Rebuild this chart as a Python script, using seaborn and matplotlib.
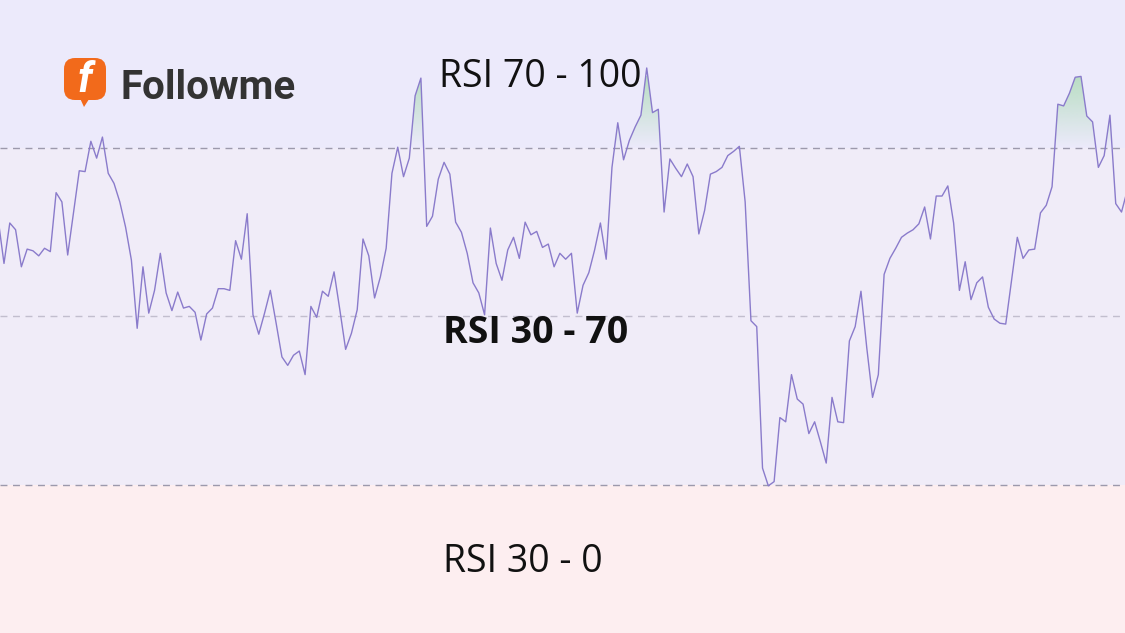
import numpy as np
import matplotlib
matplotlib.use("Agg")
import matplotlib.pyplot as plt
import seaborn as sns
from matplotlib.path import Path
from matplotlib.patches import FancyBboxPatch, Polygon
from matplotlib.colors import to_rgb

sns.set_theme(style="white")
plt.rcParams["font.family"] = ["Open Sans", "DejaVu Sans"]

# ---------------------------------------------------------------------------
# Data
# ---------------------------------------------------------------------------

rsi = [
    61.5, 56.3, 61.1, 60.3, 55.9, 58.0, 57.8, 57.2, 58.1, 57.7,
    64.7, 63.6, 57.3, 62.3, 67.3, 67.2, 70.8, 68.8, 71.3, 67.0,
    65.8, 63.6, 60.6, 56.7, 48.6, 55.9, 50.4, 53.1, 57.5, 52.8,
    50.7, 52.9, 51.0, 51.2, 50.5, 47.2, 50.3, 51.0, 53.3, 53.3,
    53.1, 59.0, 56.8, 62.2, 50.2, 47.9, 50.4, 53.1, 49.2, 45.2,
    44.2, 45.4, 45.9, 43.1, 51.2, 49.9, 53.0, 52.4, 55.3, 50.8,
    46.1, 48.0, 50.8, 59.2, 57.2, 52.2, 54.7, 58.1, 67.0, 70.1,
    66.6, 68.8, 76.2, 78.3, 60.7, 61.9, 66.3, 68.3, 66.9, 61.2,
    60.0, 57.5, 54.0, 52.8, 50.2, 60.5, 56.3, 54.3, 57.9, 59.4,
    56.9, 61.2, 59.7, 60.1, 58.2, 58.6, 55.9, 57.5, 56.8, 57.5,
    50.4, 53.7, 55.2, 57.9, 61.1, 56.8, 67.7, 73.0, 68.6, 70.9,
    72.5, 73.9, 79.5, 74.2, 74.6, 62.4, 68.7, 67.6, 66.6, 68.1,
    66.6, 59.8, 62.6, 66.9, 67.2, 67.7, 69.1, 69.6, 70.2, 63.6,
    49.5, 48.8, 32.0, 29.9, 30.4, 38.0, 37.5, 43.1, 40.2, 39.6,
    36.1, 37.5, 35.1, 32.6, 40.4, 37.5, 37.4, 47.1, 48.8, 53.0,
    46.3, 40.4, 43.1, 55.0, 56.9, 58.1, 59.4, 59.9, 60.3, 61.0,
    63.0, 59.2, 64.3, 64.3, 65.5, 61.1, 53.1, 56.5, 52.0, 54.0,
    54.7, 51.1, 49.7, 49.2, 49.1, 54.3, 59.4, 56.9, 57.9, 58.0,
    62.3, 63.2, 65.4, 75.2, 75.0, 76.5, 78.4, 78.5, 73.8, 73.1,
    67.7, 69.1, 73.9, 63.4, 62.4, 65.0,
]

overbought = 70
midline = 50
oversold = 30

zone_labels = ["RSI 70 - 100", "RSI 30 - 70", "RSI 30 - 0"]

# colours
bg_top = "#ECEAFB"
bg_mid = "#F0ECF8"
bg_low = "#FDEEF0"
line_color = "#8A7BCB"
fill_green = "#B9DEC3"
logo_orange = "#F26A1B"

# ---------------------------------------------------------------------------
# Plot
# ---------------------------------------------------------------------------

W, H = 1125, 633
fig = plt.figure(figsize=(W / 100, H / 100), dpi=100)
ax = fig.add_axes([0, 0, 1, 1])

ylo, yhi = 12.43, 87.57
xlo, xhi = 0.31, 194.6

ax.axhspan(overbought, 100, color=bg_top, zorder=0, lw=0)
ax.axhspan(oversold, overbought, color=bg_mid, zorder=0, lw=0)
ax.axhspan(0, oversold, color=bg_low, zorder=0, lw=0)

ax.axhline(overbought, color="#9C99AC", lw=1.0, dashes=(5, 4), zorder=1)
ax.axhline(oversold, color="#9C99AC", lw=1.0, dashes=(5, 4), zorder=1)
ax.axhline(midline, color="#C2BECE", lw=1.0, dashes=(5, 4), zorder=1)

x = np.arange(len(rsi))
y = np.array(rsi)

# gradient fill above the overbought line
poly = ax.fill_between(x, overbought, y, where=y > overbought, interpolate=True,
                       facecolor="none", edgecolor="none")
clip = Path.make_compound_path(*poly.get_paths())
grad = np.zeros((100, 2, 4))
grad[..., :3] = to_rgb(fill_green)
grad[..., 3] = np.linspace(0.0, 1.0, 100)[:, None]
im = ax.imshow(grad, extent=[xlo, xhi, overbought, 78.5], origin="lower",
               aspect="auto", zorder=2, interpolation="bilinear")
im.set_clip_path(clip, ax.transData)

sns.lineplot(x=x, y=y, ax=ax, color=line_color, lw=1.0, zorder=3)

ax.set_xlim(xlo, xhi)
ax.set_ylim(ylo, yhi)
ax.set_axis_off()

# zone labels
ax.text(0.48, 1 - 87 / H, zone_labels[0], transform=ax.transAxes,
        ha="center", va="baseline", fontsize=27, color="#111111")
ax.text(0.476, 1 - 343 / H, zone_labels[1], transform=ax.transAxes,
        ha="center", va="baseline", fontsize=27, fontweight="bold", color="#111111")
ax.text(0.465, 1 - 572 / H, zone_labels[2], transform=ax.transAxes,
        ha="center", va="baseline", fontsize=27, color="#111111")

# logo
lax = fig.add_axes([64 / W, 1 - 108 / H, 44 / W, 50 / H])
lax.set_xlim(0, 44)
lax.set_ylim(0, 50)
lax.set_axis_off()
lax.add_patch(FancyBboxPatch((0, 8), 42, 42, boxstyle="round,pad=0,rounding_size=11",
                             fc=logo_orange, ec="none"))
lax.add_patch(Polygon([(15, 12), (27, 12), (20, 1)], closed=True, fc=logo_orange, ec="none"))
lax.text(21, 28, "f", ha="center", va="center", fontsize=30, fontweight="bold",
         fontstyle="italic", color="white", family=["Roboto", "DejaVu Sans"])

fig.text(120 / W, 1 - 99 / H, "Followme", ha="left", va="baseline", fontsize=29,
         fontweight="bold", color="#333333", family=["Roboto", "DejaVu Sans"])

fig.savefig("out.png", dpi=100)
